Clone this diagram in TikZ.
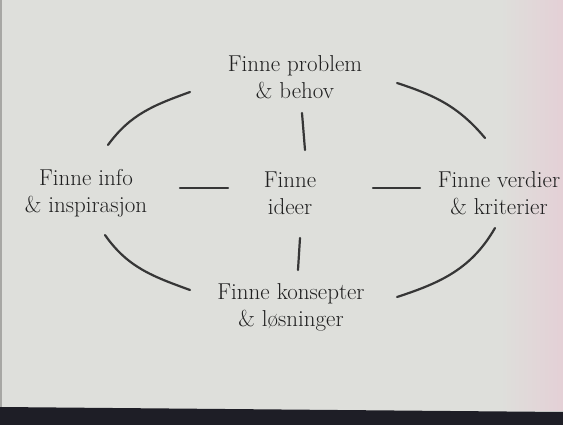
\documentclass[tikz,border=0pt]{standalone}
\usepackage{tikz}
\usetikzlibrary{calc}
\definecolor{paper}{RGB}{222,223,219}
\definecolor{paperPink}{RGB}{228,208,214}
\definecolor{tabletop}{RGB}{30,30,38}
\definecolor{ink}{RGB}{32,32,32}

\begin{document}
\begin{tikzpicture}[
    x=1pt, y=1pt,
    idea/.style={align=center, text=ink, font=\fontsize{23}{27}\selectfont,
                 inner sep=2pt},
    link/.style={draw=ink!90, line width=2.2pt, line cap=round},
]
% photo background
\fill[paper] (0,0) rectangle (563,-425);
\shade[left color=paper, right color=paperPink] (500,0) rectangle (563,-410);
\fill[tabletop] (0,-407) -- (563,-412) -- (563,-425) -- (0,-425) -- cycle;
\fill[paper!75!black] (0,0) rectangle (2,-407);
\useasboundingbox (0,0) rectangle (563,-425);

\node[idea] (prob)    at (295,-77)  {Finne problem\\\& behov};
\node[idea] (info)    at (86,-193)  {Finne info\\\& inspirasjon};
\node[idea] (ideer)   at (290,-193) {Finne\\ideer};
\node[idea] (verdi)   at (499,-193) {Finne verdier\\\& kriterier};
\node[idea] (konsept) at (291,-307) {Finne konsepter\\\& løsninger};

% spokes
\draw[link] ($(prob)+(7,-36)$)   -- ($(ideer)+(15,43)$);
\draw[link] ($(ideer)+(10,-45)$) -- ($(konsept)+(7,37)$);
\draw[link] ($(info)+(94,5)$)    -- ($(ideer)+(-62,5)$);
\draw[link] ($(ideer)+(83,5)$)   -- ($(verdi)+(-79,5)$);

% outer ring
\draw[link] ($(prob)+(-105,-15)$) to[out=200, in=54]  ($(info)+(22,48)$);
\draw[link] ($(prob)+(102,-6)$)   to[out=-18, in=130] ($(verdi)+(-14,55)$);
\draw[link] ($(verdi)+(-4,-35)$)  to[out=240, in=18]  ($(konsept)+(106,10)$);
\draw[link] ($(info)+(19,-42)$)   to[out=-55, in=160] ($(konsept)+(-101,17)$);
\end{tikzpicture}
\end{document}
